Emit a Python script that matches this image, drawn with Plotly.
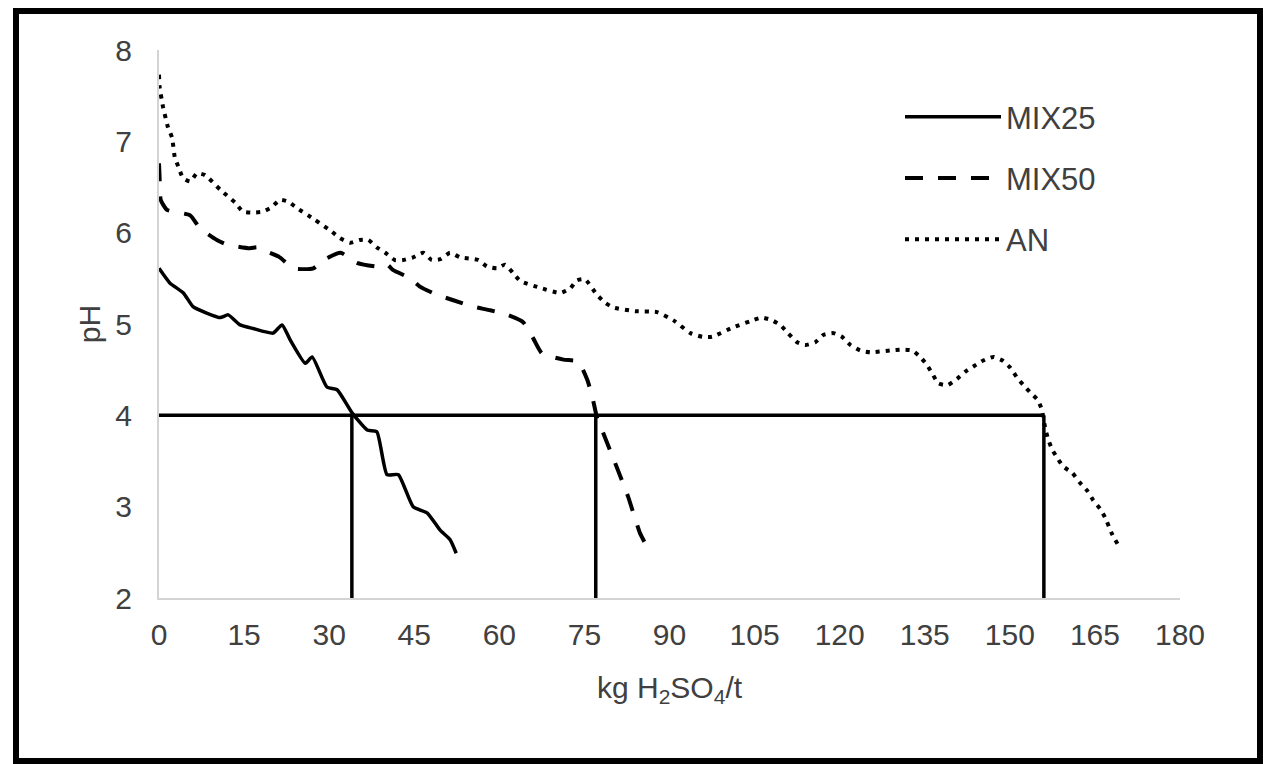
import plotly.graph_objects as go

# ---------------- data ----------------
mix25_x = [0, 1.9, 4.3, 6.0, 8.4, 10.8, 12.2, 14.3, 16.6, 20.1, 21.7, 23.1, 25.8, 27.0,
           29.6, 31.4, 34.0, 36.7, 38.4, 40.2, 42.2, 44.8, 47.3, 49.6, 51.3, 52.4]
mix25_ph = [5.61, 5.45, 5.34, 5.19, 5.12, 5.07, 5.10, 4.99, 4.95, 4.90, 4.99, 4.83, 4.57, 4.64,
            4.31, 4.28, 4.03, 3.84, 3.82, 3.35, 3.35, 3.00, 2.93, 2.74, 2.64, 2.49]

mix50_x = [0, 0.1, 0.3, 1.4, 5.5, 7.2, 10.2, 12.0, 16.0, 17.3, 18.3, 21.3, 23.6, 27.2, 29.0,
           32.0, 34.9, 38.4, 40.2, 41.3, 44.3, 46.0, 49.0, 51.9, 55.4, 58.4, 61.4, 64.2, 66.0,
           67.5, 71.3, 73.9, 75.5, 76.4, 77.2, 78.1, 80.4, 82.7, 84.8, 86.6]
mix50_ph = [6.76, 6.61, 6.36, 6.25, 6.19, 6.05, 5.92, 5.87, 5.83, 5.84, 5.81, 5.73, 5.61, 5.61, 5.70,
            5.78, 5.67, 5.63, 5.65, 5.59, 5.50, 5.41, 5.32, 5.26, 5.19, 5.15, 5.10, 5.02, 4.84,
            4.68, 4.61, 4.59, 4.39, 4.20, 3.98, 3.84, 3.48, 3.11, 2.71, 2.50]

an_x = [0, 0.1, 0.7, 1.6, 2.3, 2.8, 3.5, 4.2, 5.5, 6.7, 8.1, 10.8, 13.4, 14.8, 16.6, 18.3, 19.9,
        21.3, 22.8, 24.3, 27.5, 30.5, 31.9, 33.7, 35.4, 36.9, 38.4, 39.9, 41.6, 43.0, 44.8, 46.6,
        48.1, 49.6, 51.3, 53.1, 56.3, 57.8, 59.6, 61.0, 62.4, 63.7, 67.0, 70.7, 72.5, 73.7, 75.1,
        77.2, 78.7, 80.1, 84.0, 87.8, 90.7, 93.7, 95.8, 97.5, 101.1, 104.2, 106.3, 108.1, 109.5,
        110.9, 112.5, 113.9, 115.7, 117.1, 118.9, 120.4, 121.9, 123.6, 125.4, 128.9, 131.0, 132.8,
        134.2, 135.4, 136.3, 137.4, 139.0, 140.7, 142.2, 143.7, 145.3, 147.1, 148.7, 150.1, 151.2,
        152.4, 153.6, 154.9, 155.6, 156.3, 156.8, 157.5, 158.4, 159.4, 161.0, 162.4, 163.7, 164.7,
        166.0, 166.8, 168.1, 169.1]
an_ph = [7.73, 7.60, 7.38, 7.15, 7.04, 6.82, 6.71, 6.60, 6.56, 6.65, 6.63, 6.47, 6.33, 6.23, 6.22,
         6.23, 6.28, 6.36, 6.34, 6.27, 6.14, 6.01, 5.94, 5.89, 5.92, 5.92, 5.84, 5.78, 5.70, 5.70,
         5.73, 5.78, 5.70, 5.71, 5.78, 5.73, 5.70, 5.63, 5.61, 5.65, 5.56, 5.47, 5.40, 5.34, 5.39,
         5.48, 5.49, 5.32, 5.23, 5.18, 5.14, 5.13, 5.04, 4.90, 4.86, 4.86, 4.96, 5.03, 5.07, 5.04,
         4.99, 4.90, 4.80, 4.77, 4.80, 4.88, 4.90, 4.86, 4.77, 4.71, 4.69, 4.71, 4.72, 4.71, 4.64,
         4.55, 4.46, 4.35, 4.33, 4.40, 4.48, 4.54, 4.60, 4.64, 4.60, 4.52, 4.42, 4.33, 4.25, 4.17,
         4.07, 3.84, 3.73, 3.62, 3.53, 3.44, 3.37, 3.26, 3.17, 3.07, 2.97, 2.88, 2.69, 2.58]

series_names = ["MIX25", "MIX50", "AN"]
threshold_ph = 4
crossing_x = [34, 77, 156]          # acid dose where each curve reaches pH 4
x_ticks = [0, 15, 30, 45, 60, 75, 90, 105, 120, 135, 150, 165, 180]
y_ticks = [2, 3, 4, 5, 6, 7, 8]
x_title = "kg H<sub>2</sub>SO<sub>4</sub>/t"
y_title = "pH"

# ---------------- figure ----------------
FONT = "Liberation Sans, Arial, sans-serif"
TXT = "#404040"

fig = go.Figure()

# reference lines at pH 4
ref_x = [0, max(crossing_x)]
ref_y = [threshold_ph, threshold_ph]
for cx in crossing_x:
    ref_x += [None, cx, cx]
    ref_y += [None, y_ticks[0], threshold_ph]
fig.add_trace(go.Scatter(x=ref_x, y=ref_y, mode="lines", showlegend=False,
                         line=dict(color="black", width=3.5), hoverinfo="skip"))

styles = [
    dict(color="black", width=3.5, dash="solid"),
    dict(color="black", width=4, dash="18px,15px"),
    dict(color="black", width=4, dash="4px,6px"),
]
for name, xs, ys, st in zip(series_names, [mix25_x, mix50_x, an_x],
                            [mix25_ph, mix50_ph, an_ph], styles):
    fig.add_trace(go.Scatter(x=xs, y=ys, mode="lines", name=name, legendgroup=name,
                             line=dict(shape="spline", smoothing=0.5, **st)))

W, H = 1263, 764
L, R, T, B = 159, 83, 50, 166
pw, ph = W - L - R, H - T - B

def px_x(p):
    return (p - L) / pw

def px_y(p):
    return (H - B - p) / ph

fig.update_layout(
    width=W, height=H,
    margin=dict(l=L, r=R, t=T, b=B, pad=0),
    paper_bgcolor="white", plot_bgcolor="white",
    font=dict(family=FONT, color=TXT, size=30),
    showlegend=True,
    legend=dict(x=px_x(900), y=px_y(90), xanchor="left", yanchor="top",
                xref="paper", yref="paper",
                font=dict(family=FONT, size=31, color=TXT),
                bgcolor="rgba(0,0,0,0)", itemwidth=96, tracegroupgap=18,
                traceorder="grouped"),
    xaxis=dict(range=[0, 180], tickvals=x_ticks, showgrid=False, zeroline=False,
               showline=True, linecolor="#d4d4d4", linewidth=2, ticks="",
               ticklabelstandoff=9,
               tickfont=dict(family=FONT, size=30, color=TXT),
               title=dict(text=x_title, font=dict(family=FONT, size=30, color=TXT), standoff=27)),
    yaxis=dict(range=[2, 8], tickvals=y_ticks, showgrid=False, zeroline=False,
               showline=True, linecolor="#d4d4d4", linewidth=2, ticks="",
               ticklabelstandoff=19,
               tickfont=dict(family=FONT, size=30, color=TXT),
               title=dict(text=y_title, font=dict(family=FONT, size=30, color=TXT), standoff=6)),
    shapes=[dict(type="rect", xref="paper", yref="paper",
                 x0=px_x(16), x1=px_x(1260), y0=px_y(761), y1=px_y(11),
                 line=dict(color="black", width=6), fillcolor="rgba(0,0,0,0)", layer="above")],
)

fig.write_html("out.html", config={"displayModeBar": False},
               post_script="document.body.style.margin='0';document.body.style.padding='0';")
